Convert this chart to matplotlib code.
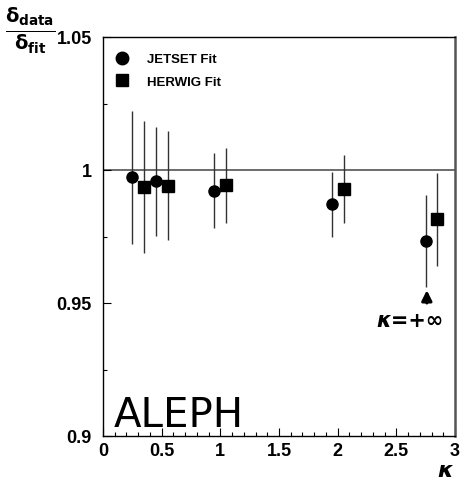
import numpy as np
import matplotlib
matplotlib.use('Agg')
import matplotlib.pyplot as plt
from matplotlib.ticker import FixedLocator, FuncFormatter
from matplotlib.lines import Line2D

plt.rcParams['font.family'] = ['Liberation Sans', 'DejaVu Sans']
plt.rcParams['font.weight'] = 'bold'
plt.rcParams['mathtext.fontset'] = 'dejavusans'

# kappa positions (last pair stands for kappa = +infinity)
jetset_kappa = [0.25, 0.45, 0.95, 1.95, 2.75]
jetset_ratio = [0.9973, 0.9957, 0.9922, 0.9871, 0.9732]
jetset_err = [0.0250, 0.0205, 0.0141, 0.0122, 0.0173]

herwig_kappa = [0.35, 0.55, 1.05, 2.05, 2.85]
herwig_ratio = [0.9936, 0.9941, 0.9942, 0.9928, 0.9814]
herwig_err = [0.0248, 0.0205, 0.0140, 0.0127, 0.0174]

x_major = [0.0, 0.5, 1.0, 1.5, 2.0, 2.5, 3.0]
x_minor = list(np.arange(0, 3.01, 0.1).round(2))
y_major = [0.9, 0.95, 1.0, 1.05]
y_minor = [0.925, 0.975, 1.025]


def fmt(v, pos):
    return f'{v:g}'


fig = plt.figure(figsize=(4.61, 4.85), dpi=100)
ax = fig.add_axes([103/461, 1 - 437/485, 352/461, 399/485])

ax.axhline(1.0, color='#444444', lw=1.1, zorder=1)

ax.errorbar(jetset_kappa, jetset_ratio, yerr=jetset_err, fmt='o', color='black',
            ecolor='#333333', elinewidth=1.0, capsize=0, markersize=8, zorder=3)
ax.errorbar(herwig_kappa, herwig_ratio, yerr=herwig_err, fmt='s', color='black',
            ecolor='#333333', elinewidth=1.0, capsize=0, markersize=8, zorder=3)

ax.set_xlim(0, 3)
ax.set_ylim(0.9, 1.05)

ax.xaxis.set_major_locator(FixedLocator(x_major))
ax.xaxis.set_minor_locator(FixedLocator(x_minor))
ax.yaxis.set_major_locator(FixedLocator(y_major))
ax.yaxis.set_minor_locator(FixedLocator(y_minor))
ax.xaxis.set_major_formatter(FuncFormatter(fmt))
ax.yaxis.set_major_formatter(FuncFormatter(fmt))

ax.tick_params(which='both', direction='in', labelsize=13, width=0.8)
ax.tick_params(which='major', length=6)
ax.tick_params(which='minor', length=3)
ax.tick_params(axis='x', pad=4)
ax.tick_params(axis='y', pad=8)
for sp in ax.spines.values():
    sp.set_linewidth(1.0)
ax.spines['right'].set_color('#555555')
ax.spines['right'].set_linewidth(1.8)

handles = [Line2D([], [], marker='o', ls='none', color='black', markersize=9),
           Line2D([], [], marker='s', ls='none', color='black', markersize=9)]
ax.legend(handles, ['JETSET Fit', 'HERWIG Fit'], loc='upper left',
          bbox_to_anchor=(-0.005, 0.98), frameon=False,
          prop={'weight': 'bold', 'size': 9.5}, handletextpad=0.9,
          labelspacing=0.8, borderaxespad=0.2)

ax.annotate('', xy=(2.76, 0.9548), xytext=(2.76, 0.9500),
            arrowprops=dict(arrowstyle='-|>', color='black', lw=2.2,
                            mutation_scale=15, shrinkA=0, shrinkB=0))
ax.text(2.62, 0.9435, 'κ=+∞', ha='center', va='center', fontsize=15,
        fontweight='bold', style='italic', family='DejaVu Sans')

ax.text(0.03, 0.026, 'ALEPH', transform=ax.transAxes, fontsize=29,
        fontweight='normal', family='DejaVu Sans', ha='left', va='baseline')

fig.text(30/461, 1 - 31/485, r'$\mathbf{\frac{\delta_{data}}{\delta_{fit}}}$',
         fontsize=20, ha='center', va='center')
fig.text(445/461, 1 - 471/485, 'κ', fontsize=16, fontweight='bold',
         style='italic', family='DejaVu Sans', ha='center', va='center')

fig.savefig('out.png', dpi=100)
